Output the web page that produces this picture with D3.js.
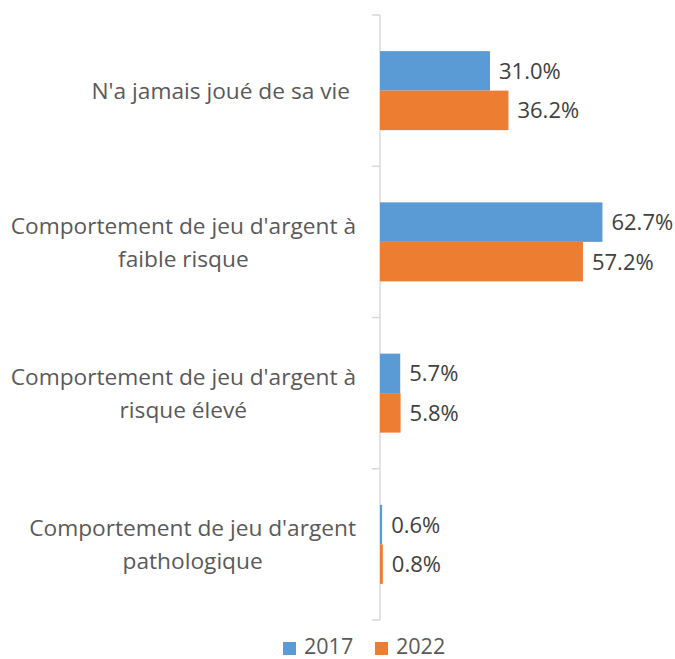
<!DOCTYPE html>
<html>
<head>
<meta charset="utf-8">
<script src="https://cdn.jsdelivr.net/npm/d3@7"></script>
<style>
body { margin: 0; background: #fff; }
text { font-family: "Open Sans", sans-serif; }
</style>
</head>
<body>
<div id="chart"></div>
<script>
// Data
const categories = [
  ["N'a jamais joué de sa vie"],
  ["Comportement de jeu d'argent à", "faible risque"],
  ["Comportement de jeu d'argent à", "risque élevé"],
  ["Comportement de jeu d'argent", "pathologique"]
]
const seriesNames = ['2017', '2022']
const values2017 = [31.0, 62.7, 5.7, 0.6]
const values2022 = [36.2, 57.2, 5.8, 0.8]
const colours = ['#5B9BD5', '#ED7D31']

// Dimensions
const dims = { width: 675, height: 659, axisX: 380, top: 15, bottom: 620 }

const svg = d3.select('#chart')
  .append('svg')
    .attr('width', dims.width)
    .attr('height', dims.height)

// Scales
const y = d3.scaleBand()
  .domain(d3.range(categories.length))
  .range([dims.top, dims.bottom])

const x = d3.scaleLinear()
  .domain([0, 100])
  .range([dims.axisX, dims.axisX + 354.8])

const inner = d3.scaleBand()
  .domain(seriesNames)
  .range([0, 79])

const barOffset = (y.bandwidth() - inner.range()[1]) / 2

// axis line + ticks
svg.append('line')
  .attr('x1', dims.axisX).attr('x2', dims.axisX)
  .attr('y1', dims.top).attr('y2', dims.bottom)
  .attr('stroke', '#d9d9d9').attr('stroke-width', 1.5)

svg.selectAll('.tick')
  .data(d3.range(categories.length + 1))
  .join('line')
  .attr('class', 'tick')
  .attr('x1', dims.axisX - 8).attr('x2', dims.axisX)
  .attr('y1', d => dims.top + d * y.step())
  .attr('y2', d => dims.top + d * y.step())
  .attr('stroke', '#d9d9d9').attr('stroke-width', 1.5)

// bars
const rows = categories.map((c, i) => [
  { s: '2017', v: values2017[i], i: i },
  { s: '2022', v: values2022[i], i: i }
]).flat()

svg.selectAll('rect.bar')
  .data(rows)
  .join('rect')
  .attr('class', 'bar')
  .attr('x', x(0))
  .attr('y', d => y(d.i) + barOffset + inner(d.s))
  .attr('width', d => x(d.v) - x(0))
  .attr('height', inner.bandwidth())
  .attr('fill', (d) => colours[seriesNames.indexOf(d.s)])

svg.selectAll('text.val')
  .data(rows)
  .join('text')
  .attr('class', 'val')
  .attr('x', d => x(d.v) + 9)
  .attr('y', d => y(d.i) + barOffset + inner(d.s) + inner.bandwidth() / 2)
  .attr('dy', '0.36em')
  .attr('font-size', 22)
  .attr('fill', '#404040')
  .text(d => d.v.toFixed(1) + '%')

// category labels
const lineH = 33
categories.forEach((lines, i) => {
  const g = svg.append('g')
  const cy = y(i) + y.bandwidth() / 2
  const t = g.selectAll('text')
    .data(lines)
    .join('text')
    .attr('y', (d, k) => cy + (k - (lines.length - 1) / 2) * lineH)
    .attr('dy', '0.36em')
    .attr('font-size', 22.7)
    .attr('fill', '#595959')
    .attr('text-anchor', 'middle')
    .text(d => d)
  let maxW = 0
  t.each(function () { maxW = Math.max(maxW, this.getComputedTextLength()) })
  const right = lines.length === 1 ? 350 : 356
  t.attr('x', right - maxW / 2)
})

// legend
const legend = svg.append('g').attr('transform', 'translate(283, 646)')
const items = legend.selectAll('g')
  .data(seriesNames)
  .join('g')
  .attr('transform', (d, i) => `translate(${i * 92}, 0)`)
items.append('rect')
  .attr('x', 0).attr('y', -4)
  .attr('width', 13).attr('height', 13)
  .attr('fill', (d, i) => colours[i])
items.append('text')
  .attr('x', 21).attr('y', 0)
  .attr('dy', '0.36em')
  .attr('font-size', 21.5)
  .attr('fill', '#595959')
  .text(d => d)
</script>
</body>
</html>
